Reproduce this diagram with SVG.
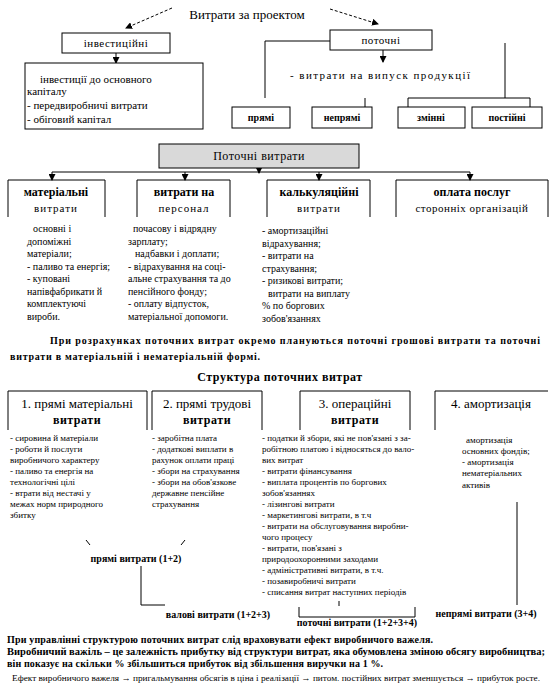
<svg xmlns="http://www.w3.org/2000/svg" width="554" height="692" viewBox="0 0 554 692">
<style>
text{font-family:"Liberation Serif","DejaVu Serif","Times New Roman",serif;fill:#000}
.box{fill:#fff;stroke:#000;stroke-width:1}
.ln{fill:none;stroke:#000;stroke-width:1}
.dash{fill:none;stroke:#000;stroke-width:1;stroke-dasharray:3,2}
.c{text-anchor:middle}
.t13{font-size:13px}
.t12{font-size:12px}
.t11{font-size:11px}
.t10{font-size:10px}
.t9{font-size:9px}
.b{font-weight:bold}
</style>
<defs>
<marker id="ah" markerWidth="7" markerHeight="7" refX="6" refY="3.5" orient="auto" markerUnits="userSpaceOnUse"><path d="M0,0 L7,3.5 L0,7 z" fill="#000"/></marker>
</defs>
<rect width="554" height="692" fill="#fff"/>

<g id="title"><text x="247" y="19" class="t13 c">Витрати за проектом</text></g>

<g id="connectors">
<path class="dash" d="M172,8 L126,28" marker-end="url(#ah)"/>
<path class="dash" d="M330,9 L378,24" marker-end="url(#ah)"/>
<path class="ln" d="M116,53 V63" marker-end="url(#ah)"/>
<path class="ln" d="M383,50 V62" marker-end="url(#ah)"/>
<path class="ln" d="M330,41 H265 V98"/>
<path class="ln" d="M365,98 V107"/>
<path class="ln" d="M505,43 V98 M408,98 H530 M408,98 V107 M530,98 V107"/>
<path class="ln" d="M259,168 V173" marker-end="url(#ah)"/>
<path class="ln" d="M52,172 H470"/>
<path class="ln" d="M52,172 V180" marker-end="url(#ah)"/>
<path class="ln" d="M185,172 V180" marker-end="url(#ah)"/>
<path class="ln" d="M319,172 V180" marker-end="url(#ah)"/>
<path class="ln" d="M470,172 V180" marker-end="url(#ah)"/>
<path class="ln" d="M86,540 L90,545 M185,540 L181,545"/>
<path class="ln" d="M141,566 V605 H165"/>
<path class="ln" d="M339,601 V606 M299,607 V617 H415 V607"/>
<path class="ln" d="M517,502 V605"/>
</g>

<g id="invest">
<rect class="box" x="62" y="33" width="108" height="20"/>
<text x="116" y="47" class="t11 c" letter-spacing="0.5">інвестиційні</text>
</g>
<g id="invest-detail">
<rect class="box" x="25" y="63" width="178" height="66"/>
<text x="40" y="83" class="t11">інвестиції до основного</text>
<text x="27" y="95" class="t11">капіталу</text>
<text x="27" y="109" class="t11">- передвиробничі витрати</text>
<text x="27" y="123" class="t11">- обіговий капітал</text>
</g>
<g id="current">
<rect class="box" x="330" y="30" width="102" height="20"/>
<text x="381" y="44" class="t11 c" letter-spacing="0.5">поточні</text>
</g>
<g id="current-detail"><text x="290" y="79" class="t11" textLength="180" lengthAdjust="spacing">- витрати на випуск продукції</text></g>
<g id="direct"><rect class="box" x="232" y="107" width="58" height="21"/><text x="261" y="121" class="t10 b c">прямі</text></g>
<g id="indirect"><rect class="box" x="312" y="107" width="60" height="21"/><text x="342" y="121" class="t10 b c">непрямі</text></g>
<g id="variable"><rect class="box" x="398" y="107" width="67" height="21"/><text x="431" y="121" class="t10 b c">змінні</text></g>
<g id="fixed"><rect class="box" x="472" y="107" width="70" height="21"/><text x="507" y="121" class="t10 b c">постійні</text></g>

<g id="current-costs">
<rect x="159" y="144" width="200" height="24" fill="#d9d9d9" stroke="#000"/>
<text x="259" y="160" class="t12 c" letter-spacing="0.5">Поточні витрати</text>
</g>

<g id="material">
<path class="ln" d="M8,217 V180 H105 V217"/>
<text x="56" y="196" class="t12 b c">матеріальні</text>
<text x="56" y="212" class="t11 c" letter-spacing="1">витрати</text>
<text x="33" y="232" class="t10">основні і</text>
<text x="27" y="244.5" class="t10">допоміжні</text>
<text x="27" y="257" class="t10">матеріали;</text>
<text x="27" y="269.5" class="t10">- паливо та енергія;</text>
<text x="27" y="282" class="t10">- куповані</text>
<text x="27" y="294.5" class="t10">напівфабрикати й</text>
<text x="27" y="307" class="t10">комплектуючі</text>
<text x="27" y="319.5" class="t10">вироби.</text>
</g>
<g id="personnel">
<path class="ln" d="M137,217 V180 H230 V217"/>
<text x="184" y="196" class="t12 b c">витрати на</text>
<text x="184" y="212" class="t11 c" letter-spacing="1">персонал</text>
<text x="133" y="232" class="t10">почасову і відрядну</text>
<text x="128" y="244.5" class="t10">зарплату;</text>
<text x="135" y="257" class="t10">надбавки і доплати;</text>
<text x="128" y="269.5" class="t10">- відрахування на соці-</text>
<text x="128" y="282" class="t10">альне страхування та до</text>
<text x="128" y="294.5" class="t10">пенсійного фонду;</text>
<text x="128" y="307" class="t10">- оплату відпусток,</text>
<text x="128" y="319.5" class="t10">матеріальної допомоги.</text>
</g>
<g id="calc">
<path class="ln" d="M267,217 V180 H370 V217"/>
<text x="319" y="196" class="t12 b c">калькуляційні</text>
<text x="319" y="212" class="t11 c" letter-spacing="1">витрати</text>
<text x="262" y="234" class="t10">- амортизаційні</text>
<text x="262" y="246.5" class="t10">відрахування;</text>
<text x="262" y="259" class="t10">- витрати на</text>
<text x="262" y="271.5" class="t10">страхування;</text>
<text x="262" y="284" class="t10">- ризикові витрати;</text>
<text x="268" y="296.5" class="t10">витрати на виплату</text>
<text x="262" y="309" class="t10">% по боргових</text>
<text x="262" y="321.5" class="t10">зобов'язаннях</text>
</g>
<g id="services">
<path class="ln" d="M396,217 V180 H548 V217"/>
<text x="472" y="196" class="t12 b c">оплата послуг</text>
<text x="472" y="212" class="t11 c" letter-spacing="0.5">сторонніх організацій</text>
</g>

<g id="note1">
<text x="50" y="344" class="t10 b" textLength="490" lengthAdjust="spacing">При розрахунках поточних витрат окремо плануються поточні грошові витрати та поточні</text>
<text x="10" y="360" class="t10 b" textLength="250" lengthAdjust="spacing">витрати в матеріальній і нематеріальній формі.</text>
</g>

<g id="structure-title"><text x="280" y="381" class="t12 b c" letter-spacing="0.5">Структура поточних витрат</text></g>

<g id="s1">
<path class="ln" d="M8,430 V391 H147 V430"/>
<text x="77" y="408" class="t13 c">1. прямі матеріальні</text>
<text x="77" y="424" class="t12 b c" letter-spacing="0.5">витрати</text>
<text x="10" y="441" class="t9">- сировина й матеріали</text>
<text x="10" y="452" class="t9">- роботи й послуги</text>
<text x="10" y="463" class="t9">виробничого характеру</text>
<text x="10" y="474" class="t9">- паливо та енергія на</text>
<text x="10" y="485" class="t9">технологічні цілі</text>
<text x="10" y="496" class="t9">- втрати від нестачі у</text>
<text x="10" y="507" class="t9">межах норм природного</text>
<text x="10" y="518" class="t9">збитку</text>
</g>
<g id="s2">
<path class="ln" d="M152,430 V391 H262 V430"/>
<text x="207" y="408" class="t13 c">2. прямі трудові</text>
<text x="207" y="424" class="t12 b c" letter-spacing="0.5">витрати</text>
<text x="152" y="441" class="t9">- заробітна плата</text>
<text x="152" y="452" class="t9">- додаткові виплати в</text>
<text x="152" y="463" class="t9">рахунок оплати праці</text>
<text x="152" y="474" class="t9">- збори на страхування</text>
<text x="152" y="485" class="t9">- збори на обов'язкове</text>
<text x="152" y="496" class="t9">державне пенсійне</text>
<text x="152" y="507" class="t9">страхування</text>
</g>
<g id="s3">
<path class="ln" d="M300,430 V391 H410 V430"/>
<text x="355" y="408" class="t13 c">3. операційні</text>
<text x="355" y="424" class="t12 b c" letter-spacing="0.5">витрати</text>
<text x="262" y="441" class="t9">- податки й збори, які не пов'язані з за-</text>
<text x="262" y="452" class="t9">робітною платою і відносяться до вало-</text>
<text x="262" y="463" class="t9">вих витрат</text>
<text x="262" y="474" class="t9">- витрати фінансування</text>
<text x="262" y="485" class="t9">- виплата процентів по боргових</text>
<text x="262" y="496" class="t9">зобов'язаннях</text>
<text x="262" y="507" class="t9">- лізингові витрати</text>
<text x="262" y="518" class="t9">- маркетингові витрати, в т.ч</text>
<text x="262" y="529" class="t9">- витрати на обслуговування виробни-</text>
<text x="262" y="540" class="t9">чого процесу</text>
<text x="262" y="551" class="t9">- витрати, пов'язані з</text>
<text x="262" y="562" class="t9">природоохоронними заходами</text>
<text x="262" y="573" class="t9">- адміністративні витрати, в т.ч.</text>
<text x="262" y="584" class="t9">- позавиробничі витрати</text>
<text x="262" y="595" class="t9">- списання витрат наступних періодів</text>
</g>
<g id="s4">
<path class="ln" d="M435,430 V391 H548"/>
<text x="491" y="408" class="t13 c">4. амортизація</text>
<text x="466" y="443" class="t9">амортизація</text>
<text x="462" y="454" class="t9">основних фондів;</text>
<text x="462" y="465" class="t9">- амортизація</text>
<text x="462" y="476" class="t9">нематеріальних</text>
<text x="462" y="488" class="t9">активів</text>
</g>

<g id="sum-direct"><text x="136" y="562" class="t10 b c">прямі витрати (1+2)</text></g>
<g id="sum-gross"><text x="218" y="618" class="t10 b c">валові витрати (1+2+3)</text></g>
<g id="sum-current"><text x="357" y="626" class="t10 b c">поточні витрати (1+2+3+4)</text></g>
<g id="sum-indirect"><text x="486" y="617" class="t10 b c">непрямі витрати (3+4)</text></g>

<g id="note2">
<text x="7" y="643" class="t10 b" textLength="426" lengthAdjust="spacing">При управлінні структурою поточних витрат слід враховувати ефект виробничого важеля.</text>
<text x="7" y="655" class="t10 b" textLength="538" lengthAdjust="spacingAndGlyphs">Виробничий важіль – це залежність прибутку від структури витрат, яка обумовлена зміною обсягу виробництва;</text>
<text x="7" y="667" class="t10 b" textLength="376" lengthAdjust="spacing">він показує на скільки % збільшиться прибуток від збільшення виручки на 1 %.</text>
<text x="12" y="681" class="t9" textLength="528" lengthAdjust="spacingAndGlyphs">Ефект виробничого важеля → пригальмування обсягів в ціна і реалізації → питом. постійних витрат зменшується → прибуток росте.</text>
</g>
</svg>
